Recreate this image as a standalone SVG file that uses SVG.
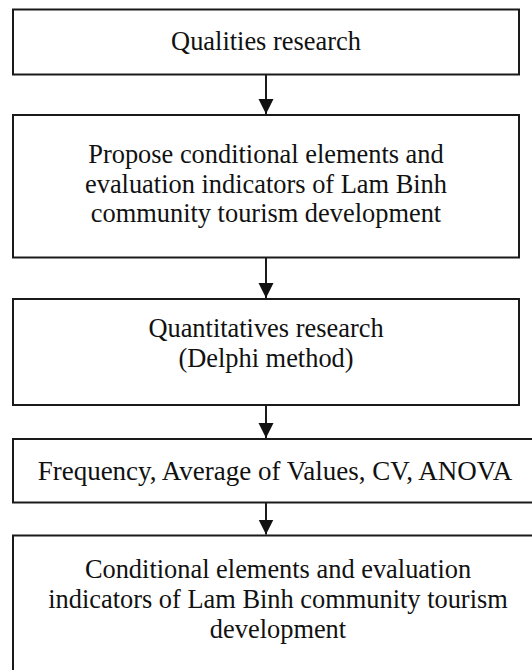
<svg xmlns="http://www.w3.org/2000/svg" width="532" height="670" viewBox="0 0 532 670">
<style>
.box{fill:#fff;stroke:#1a1a1a;stroke-width:2}
.t{font-family:"Liberation Serif","Times New Roman",serif;font-size:26.4px;fill:#111;text-anchor:middle}
.c{stroke:#1a1a1a;stroke-width:2;fill:none}
</style>
<defs>
<marker id="ah" markerUnits="userSpaceOnUse" markerWidth="16" markerHeight="16" refX="15" refY="7.5" orient="auto">
<path d="M0,0 L15,7.5 L0,15 Z" fill="#111"/>
</marker>
</defs>
<rect width="532" height="670" fill="#fff"/>
<g id="n1">
<rect class="box" x="13" y="9.5" width="506" height="65"/>
<text class="t" x="266" y="50">Qualities research</text>
</g>
<g id="n2">
<rect class="box" x="13" y="115" width="506" height="142.5"/>
<text class="t" x="266" y="163">Propose conditional elements and</text>
<text class="t" x="266" y="193">evaluation indicators of Lam Binh</text>
<text class="t" x="266" y="222">community tourism development</text>
</g>
<g id="n3">
<rect class="box" x="13" y="299" width="506" height="106"/>
<text class="t" x="266" y="337">Quantitatives research</text>
<text class="t" x="266" y="367">(Delphi method)</text>
</g>
<g id="n4">
<rect class="box" x="13" y="439" width="530" height="63.5"/>
<text class="t" x="275" y="480" style="font-size:27px">Frequency, Average of Values, CV, ANOVA</text>
</g>
<g id="n5">
<rect class="box" x="13" y="535.5" width="530" height="150"/>
<text class="t" x="278" y="578">Conditional elements and evaluation</text>
<text class="t" x="278" y="608">indicators of Lam Binh community tourism</text>
<text class="t" x="278" y="638">development</text>
</g>
<g id="connectors">
<line class="c" x1="266" y1="74.5" x2="266" y2="114" marker-end="url(#ah)"/>
<line class="c" x1="266" y1="257.5" x2="266" y2="298" marker-end="url(#ah)"/>
<line class="c" x1="266" y1="405" x2="266" y2="438" marker-end="url(#ah)"/>
<line class="c" x1="266" y1="502.5" x2="266" y2="534.5" marker-end="url(#ah)"/>
</g>
</svg>
